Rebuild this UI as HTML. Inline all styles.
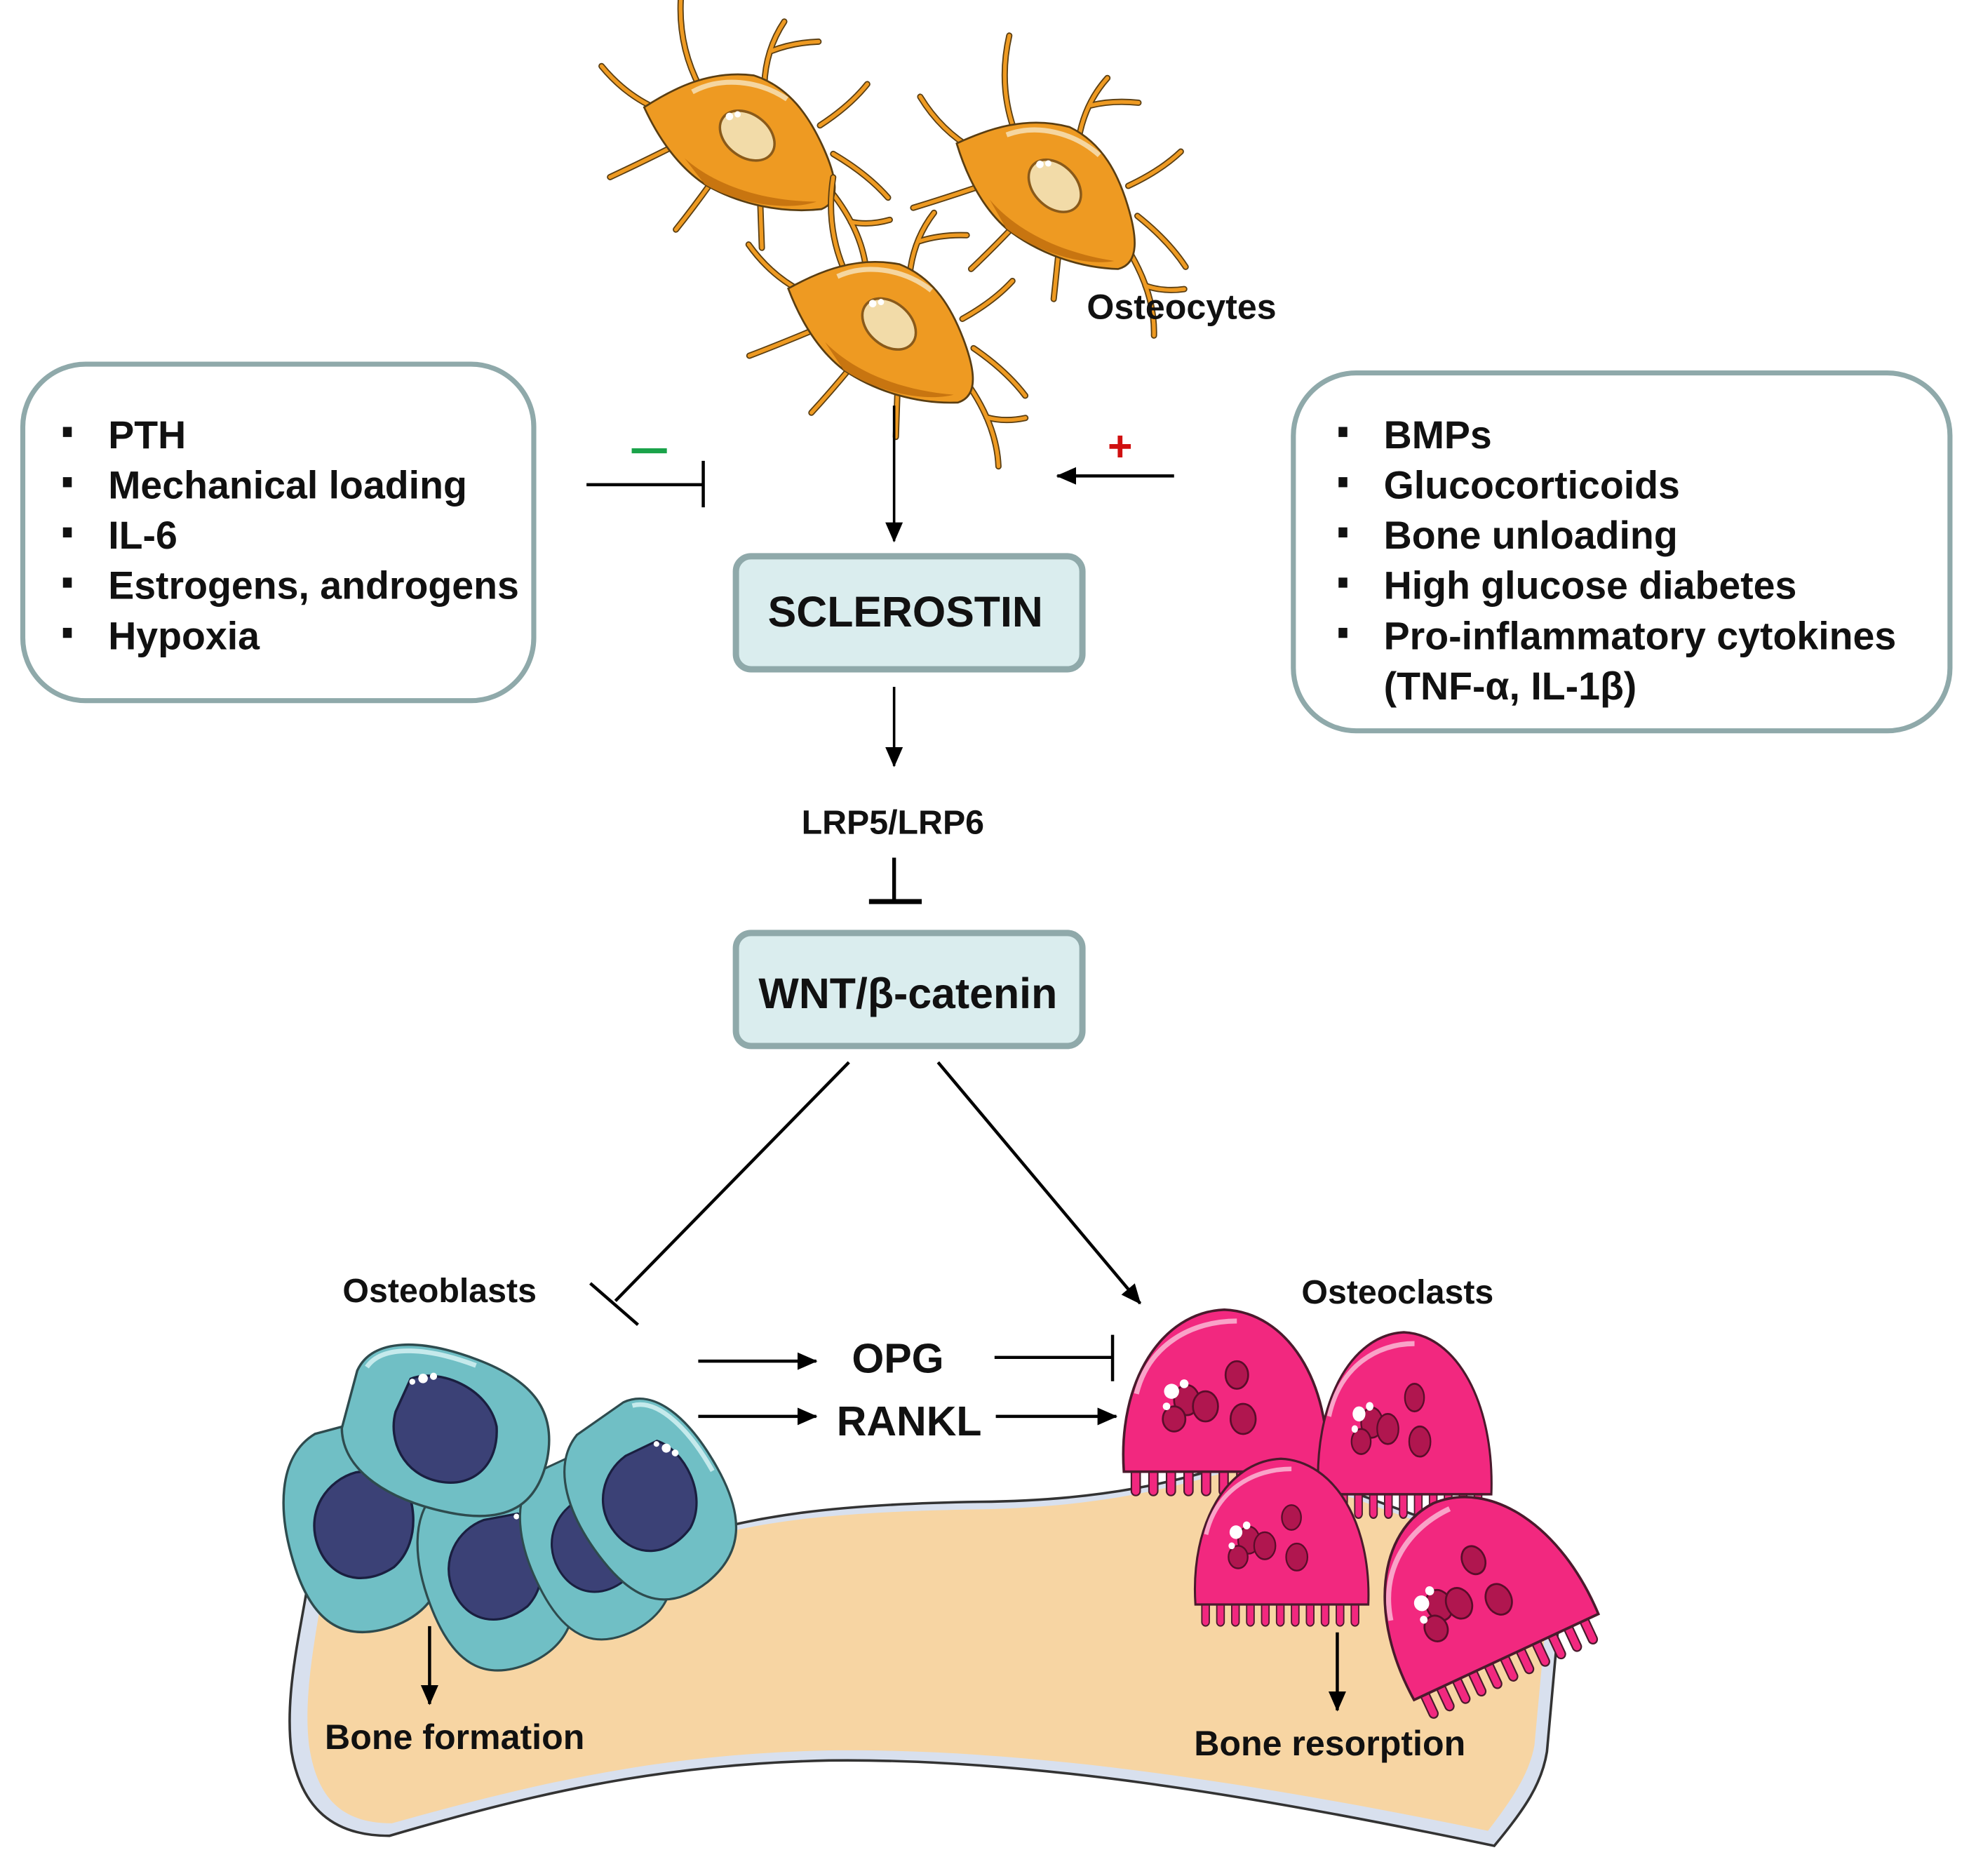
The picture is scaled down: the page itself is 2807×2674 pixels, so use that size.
<!DOCTYPE html>
<html><head><meta charset="utf-8"><style>
html,body{margin:0;padding:0;background:#fff}
svg{display:block}
text{font-family:"Liberation Sans",Arial,sans-serif;font-weight:bold;fill:#111}
</style></head><body>
<svg width="2807" height="2674" viewBox="0 0 1568 1494" xmlns="http://www.w3.org/2000/svg">
<defs>
<marker id="ah2" markerWidth="16" markerHeight="14" refX="15" refY="7" orient="auto" markerUnits="userSpaceOnUse"><path d="M0,0 L16,7 L0,14 Z" fill="#000"/></marker>
<g id="ocy">
 <g stroke="#5a3e12" stroke-width="5" stroke-linecap="round" fill="none">
  <path d="M-70,-5 Q-100,-10 -125,-30"/><path d="M-45,-30 Q-70,-60 -75,-100"/><path d="M5,-42 Q0,-70 10,-95"/><path d="M5,-70 Q20,-80 40,-85"/>
  <path d="M55,-20 Q75,-40 85,-60"/><path d="M70,0 Q100,10 120,25"/><path d="M75,30 Q105,55 115,85"/><path d="M95,50 Q110,50 125,42"/>
  <path d="M20,45 Q25,65 30,85"/><path d="M-20,42 Q-30,65 -40,85"/><path d="M-55,20 Q-80,40 -100,55"/>
 </g>
 <g stroke="#ee9a22" stroke-width="3" stroke-linecap="round" fill="none">
  <path d="M-70,-5 Q-100,-10 -125,-30"/><path d="M-45,-30 Q-70,-60 -75,-100"/><path d="M5,-42 Q0,-70 10,-95"/><path d="M5,-70 Q20,-80 40,-85"/>
  <path d="M55,-20 Q75,-40 85,-60"/><path d="M70,0 Q100,10 120,25"/><path d="M75,30 Q105,55 115,85"/><path d="M95,50 Q110,50 125,42"/>
  <path d="M20,45 Q25,65 30,85"/><path d="M-20,42 Q-30,65 -40,85"/><path d="M-55,20 Q-80,40 -100,55"/>
 </g>
 <path d="M-85,-5 C-65,-25 -40,-45 -5,-48 C25,-45 45,-25 60,-5 C75,15 85,35 70,45 C40,55 5,55 -25,45 C-50,35 -70,15 -85,-5Z" fill="#ee9a22" stroke="#5a3e12" stroke-width="1.5"/>
 <path d="M-45,28 C-15,45 25,48 65,40 C45,52 5,55 -25,45Z" fill="#c87510"/>
 <path d="M-50,-25 C-30,-42 0,-45 25,-35" stroke="#f5d6a0" stroke-width="4" fill="none"/>
 <ellipse cx="0" cy="0" rx="24" ry="17" transform="rotate(25)" fill="#f2dba8" stroke="#8a5a1a" stroke-width="2"/>
 <circle cx="-17" cy="-12" r="3" fill="#fff"/><circle cx="-11" cy="-15" r="2.5" fill="#fff"/>
</g>
<g id="oblast">
 <path d="M-85,-30 C-80,-60 -40,-70 10,-65 C60,-60 85,-40 88,0 C90,40 70,62 20,65 C-30,68 -75,55 -85,20 Z" fill="#70bfc5" stroke="#2e4b4e" stroke-width="2"/>
 <path d="M-78,-35 C-70,-58 -30,-64 10,-60" stroke="#c5eaec" stroke-width="4" fill="none"/>
 <path d="M-40,-35 C-20,-50 25,-45 40,-15 C50,15 35,40 5,42 C-25,44 -45,20 -45,-5 Z" fill="#3b4176" stroke="#1a1f40" stroke-width="2"/>
 <circle cx="-30" cy="-38" r="4" fill="#fff"/><circle cx="-22" cy="-42" r="3" fill="#fff"/><circle cx="-38" cy="-33" r="2.5" fill="#fff"/>
</g>
<g id="oclast">
 <g fill="#f2287f" stroke="#4a1a2c" stroke-width="1.2">
  <rect x="-74" y="35" width="7" height="26" rx="3.5"/><rect x="-60" y="35" width="7" height="26" rx="3.5"/><rect x="-46" y="35" width="7" height="26" rx="3.5"/><rect x="-32" y="35" width="7" height="26" rx="3.5"/><rect x="-18" y="35" width="7" height="26" rx="3.5"/><rect x="-4" y="35" width="7" height="26" rx="3.5"/><rect x="10" y="35" width="7" height="26" rx="3.5"/><rect x="24" y="35" width="7" height="26" rx="3.5"/><rect x="38" y="35" width="7" height="26" rx="3.5"/><rect x="52" y="35" width="7" height="26" rx="3.5"/><rect x="66" y="35" width="7" height="26" rx="3.5"/>
 </g>
 <path d="M-80,42 C-85,-30 -50,-85 0,-87 C50,-85 85,-30 82,42 Z" fill="#f2287f" stroke="#4a1a2c" stroke-width="2"/>
 <path d="M-70,-20 C-60,-60 -25,-78 10,-78" stroke="#f9a3c8" stroke-width="4" fill="none"/>
 <g fill="#b0164f" stroke="#5a0d2a" stroke-width="1.5">
  <ellipse cx="-30" cy="-15" rx="10" ry="12"/><ellipse cx="-15" cy="-10" rx="10" ry="12"/><ellipse cx="10" cy="-35" rx="9" ry="11"/><ellipse cx="15" cy="0" rx="10" ry="12"/><ellipse cx="-40" cy="0" rx="9" ry="10"/>
 </g>
 <circle cx="-42" cy="-22" r="6" fill="#fff"/><circle cx="-32" cy="-28" r="3.5" fill="#fff"/><circle cx="-46" cy="-10" r="3" fill="#fff"/>
</g>
</defs>

<!-- Osteocytes -->
<use href="#ocy" transform="translate(595,108) rotate(12)"/>
<use href="#ocy" transform="translate(840,148) rotate(20)"/>
<use href="#ocy" transform="translate(708,258) rotate(16)"/>
<text x="941" y="254" font-size="28" text-anchor="middle">Osteocytes</text>

<!-- Left box -->
<rect x="18" y="290" width="407" height="268" rx="50" fill="#fff" stroke="#8fa9aa" stroke-width="4"/>
<g font-size="31">
<rect x="50" y="340" width="7" height="8" fill="#111"/><text x="86" y="357">PTH</text>
<rect x="50" y="380" width="7" height="8" fill="#111"/><text x="86" y="397">Mechanical loading</text>
<rect x="50" y="420" width="7" height="8" fill="#111"/><text x="86" y="437">IL-6</text>
<rect x="50" y="460" width="7" height="8" fill="#111"/><text x="86" y="477">Estrogens, androgens</text>
<rect x="50" y="500" width="7" height="8" fill="#111"/><text x="86" y="517">Hypoxia</text>
</g>
<!-- Right box -->
<rect x="1030" y="297" width="523" height="285" rx="50" fill="#fff" stroke="#8fa9aa" stroke-width="4"/>
<g font-size="31">
<rect x="1066" y="340" width="7" height="8" fill="#111"/><text x="1102" y="357">BMPs</text>
<rect x="1066" y="380" width="7" height="8" fill="#111"/><text x="1102" y="397">Glucocorticoids</text>
<rect x="1066" y="420" width="7" height="8" fill="#111"/><text x="1102" y="437">Bone unloading</text>
<rect x="1066" y="460" width="7" height="8" fill="#111"/><text x="1102" y="477">High glucose diabetes</text>
<rect x="1066" y="500" width="7" height="8" fill="#111"/><text x="1102" y="517">Pro-inflammatory cytokines</text>
<text x="1102" y="557">(TNF-α, IL-1β)</text>
</g>

<!-- minus inhibit -->
<rect x="503" y="357" width="28" height="4" fill="#1aa34a"/>
<line x1="467" y1="386" x2="560" y2="386" stroke="#000" stroke-width="2.5"/>
<line x1="560" y1="367" x2="560" y2="404" stroke="#000" stroke-width="2.5"/>
<!-- plus arrow -->
<text x="892" y="367" font-size="34" style="fill:#d01010" text-anchor="middle">+</text>
<line x1="935" y1="379" x2="842" y2="379" stroke="#000" stroke-width="2.5" marker-end="url(#ah2)"/>

<line x1="712" y1="323" x2="712" y2="431" stroke="#000" stroke-width="2" marker-end="url(#ah2)"/>
<rect x="586" y="443" width="276" height="90" rx="12" fill="#daedee" stroke="#8fa9aa" stroke-width="5"/>
<text x="721" y="499" font-size="34" text-anchor="middle">SCLEROSTIN</text>
<line x1="712" y1="547" x2="712" y2="610" stroke="#000" stroke-width="2" marker-end="url(#ah2)"/>
<text x="711" y="664" font-size="27" text-anchor="middle">LRP5/LRP6</text>
<line x1="712" y1="683" x2="712" y2="718" stroke="#000" stroke-width="3"/>
<line x1="692" y1="718" x2="734" y2="718" stroke="#000" stroke-width="4"/>
<rect x="586" y="743" width="276" height="90" rx="12" fill="#daedee" stroke="#8fa9aa" stroke-width="5"/>
<text x="723" y="803" font-size="34" text-anchor="middle">WNT/β-catenin</text>

<line x1="676" y1="846" x2="490" y2="1036" stroke="#000" stroke-width="2.5"/>
<line x1="470" y1="1022" x2="508" y2="1055" stroke="#000" stroke-width="2.5"/>
<line x1="747" y1="846" x2="908" y2="1038" stroke="#000" stroke-width="2.5" marker-end="url(#ah2)"/>

<text x="350" y="1037" font-size="27" text-anchor="middle">Osteoblasts</text>
<text x="1113" y="1038" font-size="27" text-anchor="middle">Osteoclasts</text>

<line x1="556" y1="1084" x2="650" y2="1084" stroke="#000" stroke-width="2.5" marker-end="url(#ah2)"/>
<text x="715" y="1093" font-size="33" text-anchor="middle">OPG</text>
<line x1="792" y1="1081" x2="886" y2="1081" stroke="#000" stroke-width="2.5"/>
<line x1="886" y1="1063" x2="886" y2="1100" stroke="#000" stroke-width="2.5"/>
<line x1="556" y1="1128" x2="650" y2="1128" stroke="#000" stroke-width="2.5" marker-end="url(#ah2)"/>
<text x="724" y="1143" font-size="33" text-anchor="middle">RANKL</text>
<line x1="793" y1="1128" x2="889" y2="1128" stroke="#000" stroke-width="2.5" marker-end="url(#ah2)"/>

<!-- Bone -->
<path d="M250,1225 C245,1280 225,1340 232,1395 C240,1440 265,1462 310,1462 C420,1430 520,1405 660,1402 C820,1400 1000,1430 1190,1470 C1215,1440 1228,1420 1232,1395 L1245,1250 L1000,1160 C940,1180 880,1195 780,1196 C650,1198 600,1210 560,1220 Z" fill="#d8e0ee" stroke="#333" stroke-width="2"/>
<path d="M262,1230 C257,1280 240,1340 246,1390 C252,1430 270,1452 312,1452 C420,1422 520,1397 660,1394 C820,1392 1000,1420 1185,1458 C1205,1432 1218,1412 1222,1390 L1235,1250 L1000,1165 C940,1184 880,1200 780,1202 C650,1204 600,1214 560,1225 Z" fill="#f7d5a3"/>
<text x="362" y="1393" font-size="28" text-anchor="middle">Bone formation</text>
<text x="1059" y="1398" font-size="28" text-anchor="middle">Bone resorption</text>

<!-- Osteoblasts -->
<use href="#oblast" transform="translate(290,1215) rotate(75) scale(0.95)"/>
<use href="#oblast" transform="translate(395,1250) rotate(70) scale(0.9)"/>
<use href="#oblast" transform="translate(475,1230) rotate(65) scale(0.85)"/>
<use href="#oblast" transform="translate(355,1140) rotate(15) scale(0.95)"/>
<use href="#oblast" transform="translate(518,1195) rotate(55) scale(0.9)"/>

<!-- Osteoclasts -->
<use href="#oclast" transform="translate(975,1130)"/>
<use href="#oclast" transform="translate(1118,1148) scale(0.85,1)"/>
<use href="#oclast" transform="translate(1020,1240) scale(0.85,0.9)"/>
<use href="#oclast" transform="translate(1180,1280) rotate(-25) scale(1,1.05)"/>

<line x1="342" y1="1295" x2="342" y2="1357" stroke="#000" stroke-width="2.5" marker-end="url(#ah2)"/>
<line x1="1065" y1="1300" x2="1065" y2="1362" stroke="#000" stroke-width="2.5" marker-end="url(#ah2)"/>
</svg>
</body></html>
